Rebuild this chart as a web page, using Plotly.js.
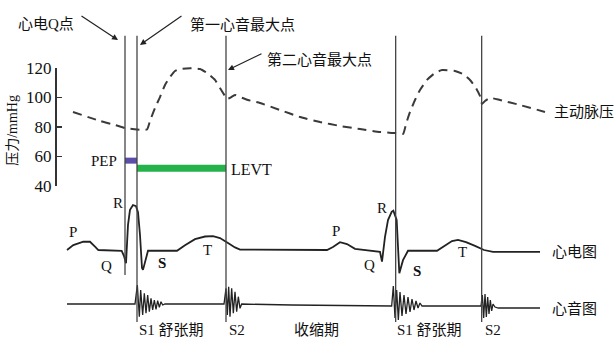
<!DOCTYPE html>
<html>
<head>
<meta charset="utf-8">
<script src="https://cdn.plot.ly/plotly-3.0.1.min.js"></script>
<style>html,body{margin:0;padding:0;background:#fff;}#chart{width:614px;height:348px;}</style>
</head>
<body>
<div id="chart"></div>
<script>
// ---- time in ms, t = 0 at the ECG Q point of the first beat ----
const tPressure = [-156,-75,-30,0,36,66,75,90,105,120,135,150,165,195,225,246,270,285,300,306,315,330,345,369,405,465,525,585,645,705,765,810,834,843,855,870,885,906,930,951,990,1014,1035,1053,1065,1071,1080,1095,1125,1185,1260];
const aorticPressure = [90.2,84.1,81.4,79.3,78.3,78.3,84.1,92.9,100.3,108.5,113.9,118.0,119.3,119.8,119.3,116.6,111.9,106.4,101.0,99.0,99.7,101.7,100.3,98.3,96.3,91.5,86.8,83.4,80.7,78.6,76.6,75.9,75.3,82.0,90.2,98.3,105.1,111.9,116.6,118.6,118.0,115.9,111.9,106.4,101.0,95.6,97.6,99.7,98.3,94.9,90.2];

const tEcg = [-174,-155,-125,-105,-90,-80,-10,-3,3,6,9,15,24,33,39,45,51,54,60,69,156,180,210,240,264,285,309,330,345,606,624,645,666,690,765,771,780,789,800,805,815,820,823,834,849,936,960,981,999,1023,1050,1077,1104,1245];
const ecgMv = [0,0.13,0.22,0.22,0.09,0,-0.02,-0.16,-0.35,0.13,0.67,1.07,1.2,1.17,1.01,0.4,-0.48,-0.53,-0.32,-0.02,-0.02,0.13,0.29,0.36,0.37,0.32,0.19,0.07,0.01,0,0.08,0.21,0.16,0.03,-0.05,-0.31,0.35,0.8,1.02,1.05,0.8,0.09,-0.62,-0.27,-0.02,-0.02,0.13,0.24,0.27,0.21,0.11,0,-0.05,-0.05];

const tPcg = [-174,27,30,37,43,47,53,58,63,68,73,78,83,88,93,98,103,108,113,120,297,303,307,311,315,320,325,330,335,340,345,350,500,800,805,810,815,820,825,831,837,843,849,855,861,867,873,879,885,891,1068,1072,1076,1080,1084,1088,1092,1096,1100,1104,1110,1120,1245];
const pcgAmp = [0,0,0,1.9,-1.27,1.4,-1.1,1.07,-0.93,0.9,-0.77,0.57,-0.6,0.4,-0.53,0.33,-0.33,0.23,-0.1,0,0,1.57,-1.1,1.73,-1.27,1.57,-0.93,1.23,-0.77,0.73,-0.43,0,-0.1,-0.2,1.8,-1.4,1.4,-1.6,1.2,-1.2,0.9,-1.0,0.7,-0.8,0.5,-0.6,0.3,-0.4,0.1,-0.2,-0.2,0.9,-1.4,1.0,-1.3,0.7,-1.0,0.4,-0.7,0,-0.3,-0.4,-0.4];

const qTimes = [0];
const s1Times = [36, 812];
const s2Times = [303, 1070];
const pepLevel = 57.2;
const levtLevel = 52;
const pressureTicks = [40, 60, 80, 100, 120];

const serif = 'Liberation Serif, "Noto Sans CJK SC", serif';
const cjk = 'Liberation Serif, "Noto Sans CJK SC", sans-serif';

const traces = [
  {x: tPressure, y: aorticPressure, xaxis: 'x', yaxis: 'y', mode: 'lines',
   line: {color: '#3a3a3a', width: 2, dash: '9px,6px', shape: 'spline', smoothing: 0.5}, hoverinfo: 'skip'},
  {x: tEcg, y: ecgMv, xaxis: 'x', yaxis: 'y2', mode: 'lines',
   line: {color: '#222', width: 1.8}, hoverinfo: 'skip'},
  {x: tPcg, y: pcgAmp, xaxis: 'x', yaxis: 'y3', mode: 'lines',
   line: {color: '#222', width: 1.3}, hoverinfo: 'skip'},
  {x: [qTimes[0], s1Times[0]], y: [pepLevel, pepLevel], xaxis: 'x', yaxis: 'y4', mode: 'lines',
   line: {color: '#5a4ea8', width: 6}, hoverinfo: 'skip'},
  {x: [s1Times[0], s2Times[0]], y: [levtLevel, levtLevel], xaxis: 'x', yaxis: 'y4', mode: 'lines',
   line: {color: '#25b24b', width: 7}, hoverinfo: 'skip'}
];

const lineTop = 0.897;
const shapes = [];
qTimes.forEach(t => shapes.push({type: 'line', xref: 'x', yref: 'paper', x0: t, x1: t, y0: 0.21, y1: lineTop, line: {color: '#444', width: 1.3}}));
s1Times.concat(s2Times).forEach(t => shapes.push({type: 'line', xref: 'x', yref: 'paper', x0: t, x1: t, y0: 0.075, y1: lineTop, line: {color: '#444', width: 1.3}}));

function lab(text, x, y, yref, opts) {
  return Object.assign({text: text, x: x, y: y, xref: 'x', yref: yref, showarrow: false,
    font: {family: serif, size: 15, color: '#111'}}, opts || {});
}
function arrow(x, y, ax, ay) {
  return {text: '', x: x, y: y, xref: 'x', yref: 'paper', ax: ax, ay: ay, showarrow: true,
    arrowhead: 2, arrowsize: 1, arrowwidth: 1.2, arrowcolor: '#222'};
}
const cjkFont = {family: cjk, size: 15, color: '#111'};

const annotations = [
  // ECG wave labels
  lab('P', -156, 0.48, 'y2'), lab('Q', -57, -0.43, 'y2'), lab('R', -21, 1.25, 'y2'),
  lab('<b>S</b>', 111, -0.35, 'y2'), lab('T', 246, 0, 'y2'),
  lab('P', 633, 0.51, 'y2'), lab('Q', 732, -0.4, 'y2'), lab('R', 771, 1.12, 'y2'),
  lab('<b>S</b>', 876, -0.56, 'y2'), lab('T', 1011, -0.05, 'y2'),
  // interval labels
  lab('PEP', -18, 57, 'y4', {xanchor: 'right'}),
  lab('LEVT', 312, 51.5, 'y4', {xanchor: 'left', font: {family: serif, size: 16, color: '#111'}}),
  // trace names
  lab('主动脉压', 1281, 90.2, 'y', {xanchor: 'left', font: cjkFont}),
  lab('心电图', 1275, -0.05, 'y2', {xanchor: 'left', font: cjkFont}),
  lab('心音图', 1275, -0.5, 'y3', {xanchor: 'left', font: cjkFont}),
  // top labels
  lab('心电Q点', -237, 0.96, 'paper', {font: cjkFont}),
  lab('第一心音最大点', 351, 0.96, 'paper', {font: cjkFont}),
  lab('第二心音最大点', 582, 0.859, 'paper', {font: cjkFont}),
  arrow(-21, 0.885, -38, -25),
  arrow(45, 0.871, 43, -30),
  arrow(309, 0.799, 35, -17),
  // bottom labels
  lab('S1 舒张期', s1Times[0], 0.023, 'paper', {xanchor: 'left', font: cjkFont}),
  lab('S2', s2Times[0] + 3, 0.023, 'paper', {xanchor: 'left', font: cjkFont}),
  lab('收缩期', 573, 0.023, 'paper', {font: cjkFont}),
  lab('S1 舒张期', s1Times[1] - 2, 0.023, 'paper', {xanchor: 'left', font: cjkFont}),
  lab('S2', s2Times[1] + 4, 0.023, 'paper', {xanchor: 'left', font: cjkFont}),
  // y title
  {text: '压力/mmHg', xref: 'paper', yref: 'paper', x: 0.019, y: 0.626, xanchor: 'center', yanchor: 'middle',
   textangle: -90, showarrow: false, font: {family: cjk, size: 14, color: '#111'}}
];

const layout = {
  width: 614, height: 348,
  margin: {l: 0, r: 0, t: 0, b: 0, pad: 0},
  paper_bgcolor: '#fff', plot_bgcolor: 'rgba(0,0,0,0)',
  showlegend: false,
  xaxis: {domain: [0, 1], range: [-375, 1467], visible: false, fixedrange: true},
  yaxis: {domain: [0, 1], range: [-69.83, 166.1], visible: false, fixedrange: true},
  yaxis2: {overlaying: 'y', range: [-2.613, 6.667], visible: false, fixedrange: true},
  yaxis3: {overlaying: 'y', range: [-4.4, 30.4], visible: false, fixedrange: true},
  yaxis4: {domain: [0.4655, 0.8046], range: [40, 120], anchor: 'free', position: 0.0896,
    showline: true, linecolor: '#333', linewidth: 1.5, ticks: 'inside', ticklen: 5, tickwidth: 1.5, tickcolor: '#333',
    tickvals: pressureTicks, ticktext: pressureTicks.map(String), showgrid: false, zeroline: false,
    tickfont: {family: serif, size: 17, color: '#111'}, fixedrange: true},
  shapes: shapes,
  annotations: annotations
};

Plotly.newPlot('chart', traces, layout, {displayModeBar: false, staticPlot: true});
</script>
</body>
</html>
